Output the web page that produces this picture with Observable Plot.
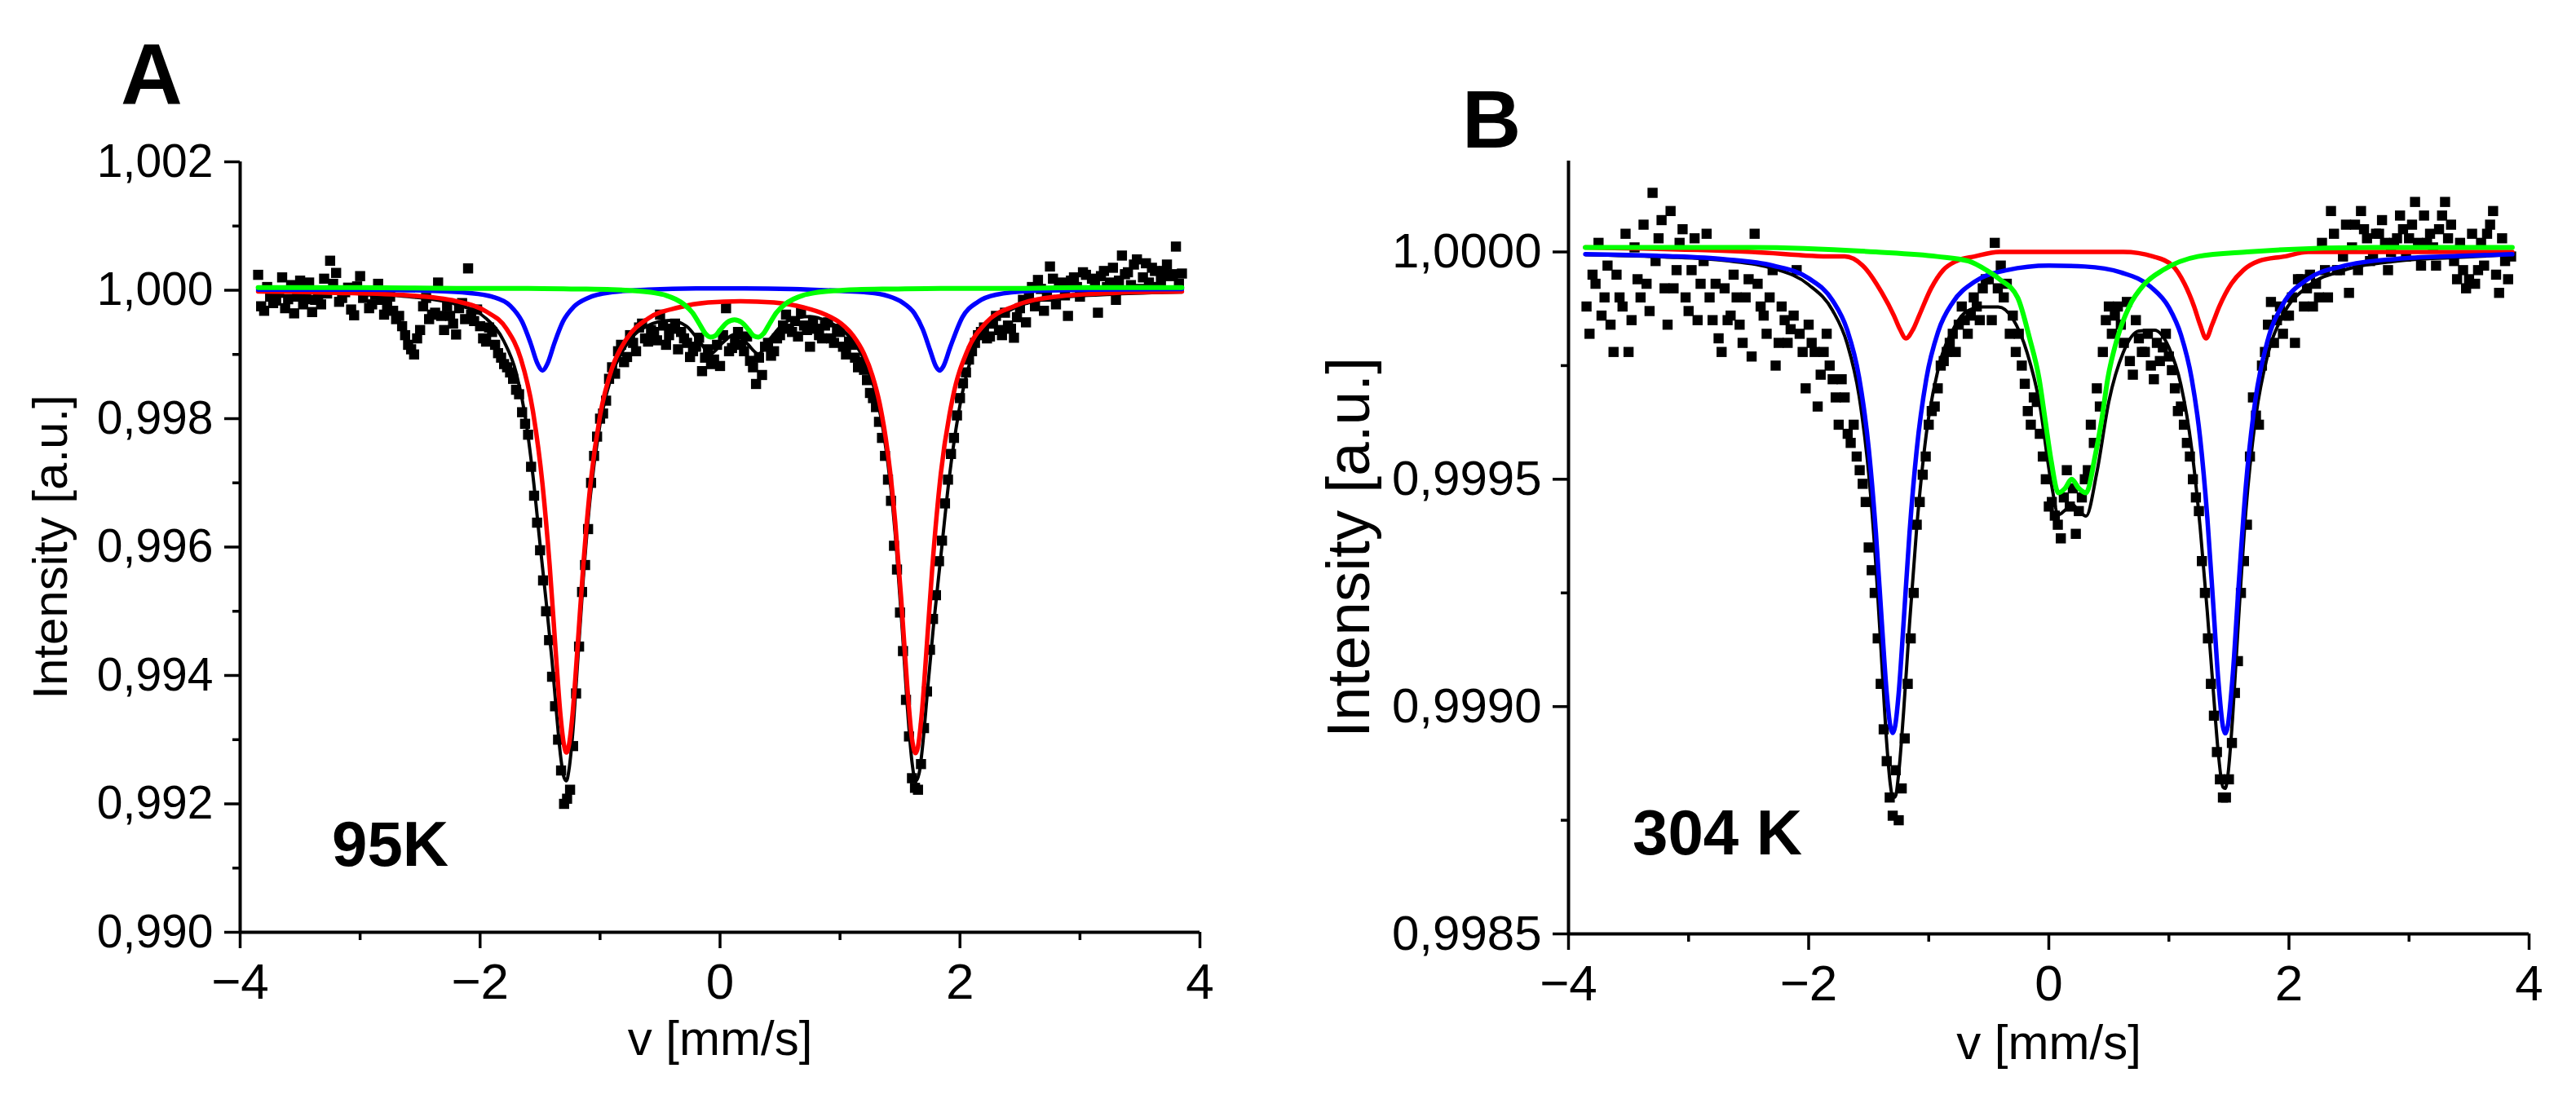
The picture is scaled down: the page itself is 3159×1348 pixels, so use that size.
<!DOCTYPE html>
<html><head><meta charset="utf-8">
<script src="https://cdn.jsdelivr.net/npm/d3@7"></script>
<script src="https://cdn.jsdelivr.net/npm/@observablehq/plot@0.6"></script>
<style>
html,body{margin:0;padding:0;background:#fff;}
#wrap{position:relative;width:3159px;height:1348px;overflow:hidden;font-family:"Liberation Sans",Arial,sans-serif;background:#fff;}
.panel{position:absolute;top:0;}
.lbl{position:absolute;font-weight:bold;color:#000;line-height:1;white-space:nowrap;font-family:"Liberation Sans",Arial,sans-serif;}
</style></head><body><div id="wrap"></div>
<script>
// ---------- shared ----------
const xDomain = [-4, 4];
const xMajor = [-4, -2, 0, 2, 4];
const xMinor = [-3, -1, 1, 3];
const xTitle = "v [mm/s]";
const yTitle = "Intensity [a.u.]";
const panelLetters = ["A", "B"];
const tempLabels = ["95K", "304 K"];

// measured velocity channels (mm/s), two interleaved sets
const velocity = [
-3.85,-3.80,-3.75,-3.70,-3.65,-3.60,-3.55,-3.50,-3.45,-3.40,
-3.35,-3.30,-3.25,-3.20,-3.15,-3.10,-3.05,-3.00,-2.95,-2.90,
-2.85,-2.80,-2.75,-2.70,-2.65,-2.60,-2.55,-2.50,-2.45,-2.40,
-2.35,-2.30,-2.25,-2.20,-2.15,-2.10,-2.05,-2.00,-1.95,-1.90,
-1.85,-1.80,-1.75,-1.70,-1.65,-1.60,-1.55,-1.50,-1.45,-1.40,
-1.35,-1.30,-1.25,-1.20,-1.15,-1.10,-1.05,-1.00,-0.95,-0.90,
-0.85,-0.80,-0.75,-0.70,-0.65,-0.60,-0.55,-0.50,-0.45,-0.40,
-0.35,-0.30,-0.25,-0.20,-0.15,-0.10,-0.05,0.00,0.05,0.10,
0.15,0.20,0.25,0.30,0.35,0.40,0.45,0.50,0.55,0.60,
0.65,0.70,0.75,0.80,0.85,0.90,0.95,1.00,1.05,1.10,
1.15,1.20,1.25,1.30,1.35,1.40,1.45,1.50,1.55,1.60,
1.65,1.70,1.75,1.80,1.85,1.90,1.95,2.00,2.05,2.10,
2.15,2.20,2.25,2.30,2.35,2.40,2.45,2.50,2.55,2.60,
2.65,2.70,2.75,2.80,2.85,2.90,2.95,3.00,3.05,3.10,
3.15,3.20,3.25,3.30,3.35,3.40,3.45,3.50,3.55,3.60,
3.65,3.70,3.75,3.80,3.85];
const velocityOdd = [
-3.825,-3.775,-3.725,-3.675,-3.625,-3.575,-3.525,-3.475,-3.425,-3.375,
-3.325,-3.275,-3.225,-3.175,-3.125,-3.075,-3.025,-2.975,-2.925,-2.875,
-2.825,-2.775,-2.725,-2.675,-2.625,-2.575,-2.525,-2.475,-2.425,-2.375,
-2.325,-2.275,-2.225,-2.175,-2.125,-2.075,-2.025,-1.975,-1.925,-1.875,
-1.825,-1.775,-1.725,-1.675,-1.625,-1.575,-1.525,-1.475,-1.425,-1.375,
-1.325,-1.275,-1.225,-1.175,-1.125,-1.075,-1.025,-0.975,-0.925,-0.875,
-0.825,-0.775,-0.725,-0.675,-0.625,-0.575,-0.525,-0.475,-0.425,-0.375,
-0.325,-0.275,-0.225,-0.175,-0.125,-0.075,-0.025,0.025,0.075,0.125,
0.175,0.225,0.275,0.325,0.375,0.425,0.475,0.525,0.575,0.625,
0.675,0.725,0.775,0.825,0.875,0.925,0.975,1.025,1.075,1.125,
1.175,1.225,1.275,1.325,1.375,1.425,1.475,1.525,1.575,1.625,
1.675,1.725,1.775,1.825,1.875,1.925,1.975,2.025,2.075,2.125,
2.175,2.225,2.275,2.325,2.375,2.425,2.475,2.525,2.575,2.625,
2.675,2.725,2.775,2.825,2.875,2.925,2.975,3.025,3.075,3.125,
3.175,3.225,3.275,3.325,3.375,3.425,3.475,3.525,3.575,3.625,
3.675,3.725,3.775,3.825];

// ---------- Panel A (95 K) ----------
const yDomainA = [0.990, 1.002];
const yMajorA = [0.990, 0.992, 0.994, 0.996, 0.998, 1.000, 1.002];
const yMinorA = [0.991, 0.993, 0.995, 0.997, 0.999, 1.001];

const measuredA = [
1.00024,0.99968,0.99990,0.99984,1.00020,0.99986,0.99964,1.00015,0.99986,0.99966,
0.99992,1.00018,1.00046,1.00027,0.99988,1.00004,0.99961,1.00022,0.99998,0.99978,
1.00010,0.99962,0.99990,0.99955,0.99944,0.99915,0.99900,0.99938,0.99988,0.99962,
1.00012,0.99938,0.99960,0.99931,0.99980,1.00034,0.99952,0.99944,0.99920,0.99935,
0.99902,0.99885,0.99872,0.99845,0.99810,0.99775,0.99680,0.99595,0.99500,0.99398,
0.99300,0.99200,0.99222,0.99372,0.99530,0.99628,0.99742,0.99800,0.99828,0.99880,
0.99905,0.99888,0.99930,0.99905,0.99948,0.99920,0.99935,0.99962,0.99915,0.99940,
0.99908,0.99925,0.99896,0.99912,0.99874,0.99908,0.99892,0.99882,0.99972,0.99910,
0.99935,0.99905,0.99890,0.99854,0.99868,0.99918,0.99905,0.99930,0.99962,0.99935,
0.99928,0.99945,0.99912,0.99940,0.99925,0.99950,0.99918,0.99935,0.99900,0.99915,
0.99880,0.99876,0.99840,0.99818,0.99770,0.99705,0.99602,0.99498,0.99362,0.99240,
0.99222,0.99318,0.99440,0.99525,0.99610,0.99705,0.99770,0.99832,0.99872,0.99905,
0.99930,0.99942,0.99928,0.99960,0.99930,0.99945,0.99926,0.99972,0.99950,1.00005,
1.00016,0.99968,1.00037,0.99978,1.00012,0.99960,1.00020,0.99990,1.00024,1.00018,
0.99965,1.00030,1.00012,0.99985,1.00054,1.00028,1.00040,1.00002,1.00042,1.00035,
1.00005,1.00030,1.00022,1.00068,1.00026];
const measuredA2 = [
0.99975,1.00005,0.99980,0.99996,0.99972,1.00008,0.99990,0.99978,1.00012,0.99985,
0.99978,0.99995,1.00010,0.99982,0.99997,0.99970,1.00006,0.99988,0.99972,0.99993,
0.99985,0.99975,0.99968,0.99960,0.99930,0.99908,0.99925,0.99975,0.99955,0.99965,
0.99960,0.99975,0.99948,0.99972,0.99955,0.99962,0.99970,0.99925,0.99942,0.99915,
0.99895,0.99880,0.99862,0.99838,0.99792,0.99725,0.99638,0.99548,0.99455,0.99352,
0.99252,0.99208,0.99290,0.99445,0.99572,0.99700,0.99772,0.99808,0.99862,0.99870,
0.99915,0.99896,0.99918,0.99942,0.99925,0.99938,0.99922,0.99945,0.99930,0.99948,
0.99935,0.99918,0.99905,0.99926,0.99895,0.99885,0.99915,0.99930,0.99905,0.99922,
0.99915,0.99928,0.99880,0.99895,0.99912,0.99898,0.99925,0.99945,0.99940,0.99952,
0.99965,0.99938,0.99950,0.99930,0.99945,0.99925,0.99940,0.99912,0.99920,0.99895,
0.99888,0.99860,0.99832,0.99795,0.99742,0.99672,0.99565,0.99438,0.99305,0.99225,
0.99262,0.99375,0.99488,0.99578,0.99668,0.99745,0.99805,0.99855,0.99892,0.99918,
0.99935,0.99925,0.99948,0.99938,0.99965,0.99940,0.99958,0.99985,0.99992,0.99975,
1.00002,0.99990,1.00018,1.00008,0.99992,1.00015,1.00005,1.00028,0.99998,1.00010,
1.00022,1.00005,1.00035,1.00015,1.00025,1.00008,1.00048,1.00020,1.00012,1.00030,
1.00015,1.00040,1.00025,1.00010];

const totalAx = [-3.85,-3.2,-2.6,-2.2,-1.95,-1.8,-1.7,-1.62,-1.56,-1.50,-1.45,-1.40,-1.36,-1.33,-1.30,-1.28,-1.26,-1.23,-1.19,-1.14,-1.08,-1.00,-0.90,-0.78,-0.60,-0.42,-0.28,-0.17,-0.08,0.02,0.12,0.22,0.32,0.42,0.56,0.75,0.90,1.02,1.12,1.21,1.29,1.36,1.42,1.47,1.52,1.56,1.60,1.63,1.66,1.69,1.73,1.78,1.84,1.91,2.0,2.1,2.25,2.45,2.8,3.3,3.85];
const totalAy = [0.99998,0.99996,0.99990,0.99978,0.99956,0.99920,0.99872,0.99799,0.99712,0.99604,0.99516,0.99422,0.99335,0.99276,0.99241,0.99236,0.99252,0.99305,0.99412,0.99550,0.99681,0.99792,0.99869,0.99915,0.99945,0.99953,0.99944,0.99920,0.99901,0.99918,0.99931,0.99918,0.99901,0.99925,0.99952,0.99959,0.99951,0.99938,0.99918,0.99888,0.99844,0.99782,0.99698,0.99598,0.99468,0.99354,0.99265,0.99235,0.99248,0.99293,0.99378,0.99479,0.99585,0.99707,0.99821,0.99898,0.99946,0.99972,0.99988,0.99994,0.99997];

const redAx = [-3.85,-3.2,-2.6,-2.2,-1.95,-1.78,-1.66,-1.56,-1.48,-1.42,-1.37,-1.33,-1.30,-1.28,-1.26,-1.23,-1.19,-1.14,-1.08,-1.00,-0.90,-0.78,-0.60,-0.35,-0.10,0.17,0.45,0.70,0.88,1.01,1.11,1.20,1.27,1.33,1.38,1.42,1.46,1.51,1.56,1.60,1.63,1.65,1.68,1.72,1.77,1.84,1.94,2.06,2.22,2.45,2.80,3.30,3.85];
const redAy = [0.99998,0.99996,0.99992,0.99983,0.99967,0.99940,0.99893,0.99812,0.99698,0.99571,0.99438,0.99338,0.99291,0.99280,0.99291,0.99338,0.99438,0.99571,0.99698,0.99805,0.99879,0.99924,0.99956,0.99973,0.99981,0.99983,0.99981,0.99973,0.99962,0.99948,0.99929,0.99901,0.99867,0.99824,0.99771,0.99714,0.99639,0.99519,0.99384,0.99301,0.99279,0.99289,0.99337,0.99437,0.99570,0.99714,0.99833,0.99905,0.99950,0.99975,0.99990,0.99996,0.99998];

const blueAx = [-3.85,-3.0,-2.4,-2.1,-1.9,-1.75,-1.65,-1.58,-1.52,-1.48,-1.44,-1.38,-1.31,-1.22,-1.1,-0.9,-0.6,-0.2,0.2,0.6,1.0,1.2,1.4,1.52,1.62,1.69,1.75,1.80,1.83,1.86,1.92,2.02,2.15,2.3,2.6,3.1,3.85];
const blueAy = [1.00001,1.00001,0.99999,0.99996,0.99990,0.99976,0.99951,0.99918,0.99885,0.99875,0.99885,0.99918,0.99951,0.99974,0.99988,0.99997,1.00001,1.00003,1.00003,1.00002,0.99999,0.99997,0.99991,0.99981,0.99964,0.99939,0.99907,0.99881,0.99875,0.99881,0.99912,0.99958,0.99982,0.99993,0.99999,1.00001,1.00002];

const greenAx = [-3.85,-3.0,-2.2,-1.6,-1.2,-0.9,-0.7,-0.55,-0.45,-0.37,-0.30,-0.23,-0.17,-0.12,-0.08,-0.04,0.00,0.06,0.12,0.18,0.24,0.28,0.32,0.36,0.41,0.47,0.54,0.61,0.69,0.79,0.94,1.14,1.44,1.84,2.44,3.0,3.85];
const greenAy = [1.00004,1.00004,1.00003,1.00003,1.00002,1.00001,0.99999,0.99996,0.99992,0.99986,0.99978,0.99965,0.99947,0.99932,0.99927,0.99929,0.99938,0.99950,0.99954,0.99950,0.99938,0.99929,0.99927,0.99932,0.99947,0.99965,0.99978,0.99986,0.99992,0.99996,0.99999,1.00001,1.00002,1.00003,1.00003,1.00004,1.00004];

// ---------- Panel B (304 K) ----------
const yDomainB = [0.9985, 1.0002];
const yMajorB = [0.9985, 0.9990, 0.9995, 1.0000];
const yMinorB = [0.99875, 0.99925, 0.99975];

const measuredB = [
0.99988,0.99995,1.00002,0.99990,0.99984,0.99995,0.99988,0.99978,1.00001,0.99990,
0.99993,1.00013,1.00003,0.99992,1.00009,0.99996,1.00005,0.99987,1.00003,0.99993,
1.00004,0.99985,0.99981,0.99992,0.99986,0.99990,0.99980,0.99994,1.00004,0.99988,
0.99982,0.99996,0.99980,0.99985,0.99983,0.99996,0.99978,0.99984,0.99978,0.99973,
0.99982,0.99972,0.99962,0.99968,0.99958,0.99955,0.99949,0.99935,0.99925,0.99905,
0.99888,0.99876,0.99875,0.99893,0.99915,0.99940,0.99951,0.99962,0.99966,0.99975,
0.99978,0.99982,0.99984,0.99985,0.99986,0.99988,0.99992,0.99994,1.00002,0.99997,
0.99993,0.99986,0.99982,0.99971,0.99962,0.99967,0.99955,0.99944,0.99942,0.99937,
0.99952,0.99948,0.99943,0.99950,0.99962,0.99970,0.99978,0.99988,0.99986,0.99984,
0.99989,0.99973,0.99981,0.99978,0.99975,0.99980,0.99979,0.99977,0.99970,0.99966,
0.99958,0.99950,0.99943,0.99925,0.99905,0.99890,0.99880,0.99884,0.99903,0.99925,
0.99940,0.99968,0.99962,0.99978,0.99989,0.99985,0.99982,0.99986,0.99980,0.99994,
0.99992,0.99988,0.99990,0.99996,1.00009,0.99996,0.99999,0.99991,1.00006,1.00009,
1.00003,0.99999,1.00004,1.00002,1.00000,1.00003,1.00005,1.00003,1.00011,0.99997,
1.00002,1.00001,1.00005,1.00011,1.00006,0.99994,0.99996,0.99994,0.99993,1.00002,
1.00004,1.00009,0.99991,0.99998,0.99999];
const measuredB2 = [
0.99982,0.99993,0.99986,0.99997,0.99978,0.99990,1.00004,0.99985,0.99994,1.00006,
0.99987,0.99998,1.00007,0.99984,0.99992,1.00002,0.99990,0.99996,0.99985,0.99998,
0.99990,0.99993,0.99978,0.99985,0.99995,0.99984,0.99990,0.99977,0.99993,0.99986,
0.99990,0.99975,0.99988,0.99980,0.99986,0.99982,0.99970,0.99980,0.99966,0.99978,
0.99975,0.99968,0.99972,0.99960,0.99962,0.99952,0.99945,0.99930,0.99915,0.99895,
0.99880,0.99886,0.99882,0.99905,0.99925,0.99945,0.99955,0.99965,0.99970,0.99976,
0.99980,0.99978,0.99988,0.99982,0.99990,0.99985,0.99994,0.99985,0.99992,0.99990,
0.99982,0.99978,0.99975,0.99965,0.99968,0.99960,0.99950,0.99945,0.99940,0.99946,
0.99944,0.99938,0.99946,0.99952,0.99958,0.99966,0.99985,0.99982,0.99988,0.99980,
0.99976,0.99985,0.99978,0.99982,0.99972,0.99976,0.99982,0.99974,0.99965,0.99962,
0.99955,0.99946,0.99932,0.99915,0.99898,0.99884,0.99880,0.99892,0.99910,0.99932,
0.99955,0.99964,0.99975,0.99984,0.99980,0.99988,0.99986,0.99990,0.99994,0.99988,
0.99995,0.99993,1.00002,0.99990,1.00004,0.99996,1.00006,1.00001,0.99996,1.00005,
0.99998,1.00004,1.00007,0.99996,1.00002,1.00008,0.99999,1.00006,1.00002,1.00008,
1.00004,0.99997,1.00008,1.00003,0.99998,1.00002,0.99992,1.00004,0.99996,0.99997,
1.00006,0.99995,1.00003,0.99994];

const totalBx = [-3.86,-3.2,-2.7,-2.3,-2.0,-1.8,-1.68,-1.58,-1.50,-1.44,-1.39,-1.35,-1.32,-1.30,-1.28,-1.25,-1.21,-1.16,-1.10,-1.02,-0.92,-0.80,-0.68,-0.55,-0.42,-0.30,-0.18,-0.08,0.02,0.08,0.135,0.19,0.25,0.31,0.40,0.50,0.62,0.75,0.88,1.00,1.10,1.19,1.26,1.32,1.37,1.41,1.45,1.47,1.49,1.53,1.58,1.64,1.72,1.82,1.95,2.15,2.45,2.9,3.4,3.86];
const totalBy = [0.999994,0.999989,0.999981,0.999964,0.999928,0.999871,0.999799,0.999683,0.999512,0.99931,0.999092,0.99892,0.998829,0.998801,0.998801,0.998854,0.998986,0.999182,0.999394,0.9996,0.999744,0.999828,0.99987,0.999879,0.999879,0.999853,0.999778,0.999671,0.999492,0.999422,0.999432,0.999446,0.99943,0.999419,0.999515,0.999671,0.999779,0.999826,0.999828,0.99979,0.999708,0.999567,0.999395,0.999208,0.999034,0.998902,0.998823,0.99882,0.998846,0.998973,0.999191,0.999426,0.99963,0.99977,0.999861,0.999923,0.999959,0.99998,0.999988,0.999994];

const redBx = [-3.86,-2.47,-1.80,-1.70,-1.55,-1.39,-1.29,-1.24,-1.19,-1.13,-1.08,-0.98,-0.88,-0.77,-0.62,-0.41,0.10,0.62,0.87,1.03,1.13,1.21,1.26,1.31,1.36,1.42,1.52,1.62,1.75,1.96,2.16,3.86];
const redBy = [1.00001,1.00000,0.99999,0.99999,0.99997,0.99991,0.99986,0.99983,0.99981,0.99983,0.99986,0.99992,0.99996,0.99998,0.99999,1.00000,1.00000,1.00000,0.99999,0.99997,0.99993,0.99988,0.99984,0.99981,0.99984,0.99988,0.99993,0.99996,0.99998,0.99999,1.00000,1.00000];

const blueBx = [-3.86,-3.2,-2.7,-2.3,-2.0,-1.8,-1.68,-1.58,-1.50,-1.44,-1.39,-1.35,-1.32,-1.30,-1.28,-1.25,-1.21,-1.16,-1.10,-1.02,-0.92,-0.80,-0.62,-0.35,0.0,0.3,0.6,0.85,1.00,1.10,1.19,1.26,1.32,1.37,1.41,1.45,1.47,1.49,1.53,1.58,1.64,1.72,1.82,1.95,2.15,2.45,2.9,3.4,3.86];
const blueBy = [0.999995,0.999991,0.999984,0.99997,0.999942,0.999893,0.999829,0.999724,0.999568,0.999382,0.999182,0.99903,0.998957,0.998942,0.998957,0.99903,0.999182,0.999382,0.999565,0.999721,0.999826,0.999889,0.999934,0.99996,0.99997,0.999968,0.999955,0.999923,0.999878,0.999818,0.999721,0.999591,0.999416,0.999222,0.999063,0.998956,0.998941,0.998956,0.999063,0.999263,0.999482,0.999674,0.999803,0.999885,0.999939,0.999969,0.999985,0.999991,0.999995];

const greenBx = [-3.86,-2.47,-1.44,-0.93,-0.67,-0.52,-0.41,-0.26,-0.16,-0.08,-0.03,0.02,0.08,0.135,0.19,0.25,0.31,0.385,0.44,0.49,0.57,0.67,0.80,0.95,1.24,1.65,2.68,3.86];
const greenBy = [1.00001,1.00001,1.00000,0.99999,0.99998,0.99996,0.99994,0.99990,0.99981,0.99972,0.99963,0.99954,0.99947,0.99948,0.99950,0.99948,0.99947,0.99955,0.99963,0.99972,0.99981,0.99988,0.99993,0.99996,0.99999,1.00000,1.00001,1.00001];

// ---------- drawing ----------
const fmtX = d => (d < 0 ? "\u2212" : "") + Math.abs(d);
const FONT = "'Liberation Sans', Arial, sans-serif";

function panel(cfg) {
  const fmtY = d => d.toFixed(cfg.digits).replace(".", ",");
  return Plot.plot({
    width: cfg.width, height: 1348,
    marginLeft: cfg.ml, marginRight: cfg.mr, marginTop: cfg.mt, marginBottom: cfg.mb,
    x: {domain: xDomain},
    y: {domain: cfg.yDomain},
    style: {fontFamily: FONT, color: "#000", background: "transparent", overflow: "visible"},
    marks: [
      Plot.dot(velocity, {x: velocity, y: cfg.measured, symbol: "square", r: 7, fill: "#000", stroke: "none"}),
      Plot.dot(velocityOdd, {x: velocityOdd, y: cfg.measured2, symbol: "square", r: 7, fill: "#000", stroke: "none"}),
      Plot.line(cfg.totalX, {x: cfg.totalX, y: cfg.totalY, stroke: "#000", strokeWidth: 4, curve: "monotone-x"}),
      Plot.line(cfg.redX, {x: cfg.redX, y: cfg.redY, stroke: "#ff0000", strokeWidth: 5.5, curve: "monotone-x"}),
      Plot.line(cfg.blueX, {x: cfg.blueX, y: cfg.blueY, stroke: "#0000ff", strokeWidth: 5.5, curve: "monotone-x"}),
      Plot.line(cfg.greenX, {x: cfg.greenX, y: cfg.greenY, stroke: "#00ff00", strokeWidth: 6, curve: "monotone-x"}),
      Plot.ruleX([xDomain[0]], {stroke: "#000", strokeWidth: 4}),
      Plot.ruleY([cfg.yDomain[0]], {stroke: "#000", strokeWidth: 4}),
      Plot.axisX(xMajor, {anchor: "bottom", tickSize: 20, tickPadding: 17, fontSize: 62, strokeWidth: 3.5, tickFormat: fmtX, label: null}),
      Plot.axisX(xMinor, {anchor: "bottom", tickSize: 10, strokeWidth: 3.5, tickFormat: () => "", label: null}),
      Plot.axisY(cfg.yMajor, {anchor: "left", tickSize: 19, tickPadding: 14, fontSize: cfg.yFont, strokeWidth: 3.5, tickFormat: fmtY, label: null}),
      Plot.axisY(cfg.yMinor, {anchor: "left", tickSize: 9, strokeWidth: 3.5, tickFormat: () => "", label: null}),
      Plot.text([yTitle], {text: d => d, frameAnchor: "left", dx: cfg.ylabDx, rotate: -90, fontSize: cfg.ylabFont, lineAnchor: "middle", textAnchor: "middle", fill: "#000"}),
      Plot.text([xTitle], {text: d => d, frameAnchor: "bottom", dy: cfg.xlabDy, fontSize: 60, lineAnchor: "bottom", textAnchor: "middle", fill: "#000"})
    ]
  });
}

const wrap = document.getElementById("wrap");

const svgA = panel({
  width: 1560, ml: 294, mr: 89, mt: 198, mb: 205,
  yDomain: yDomainA, yMajor: yMajorA, yMinor: yMinorA, digits: 3, yFont: 57,
  measured: measuredA, measured2: measuredA2, totalX: totalAx, totalY: totalAy, redX: redAx, redY: redAy,
  blueX: blueAx, blueY: blueAy, greenX: greenAx, greenY: greenAy,
  ylabDx: -232, ylabFont: 60, xlabDy: 150
});
const svgB = panel({
  width: 1580, ml: 344, mr: 58, mt: 197, mb: 203,
  yDomain: yDomainB, yMajor: yMajorB, yMinor: yMinorB, digits: 4, yFont: 60,
  measured: measuredB, measured2: measuredB2, totalX: totalBx, totalY: totalBy, redX: redBx, redY: redBy,
  blueX: blueBx, blueY: blueBy, greenX: greenBx, greenY: greenBy,
  ylabDx: -269, ylabFont: 75, xlabDy: 153
});

const dA = document.createElement("div"); dA.className = "panel"; dA.style.left = "0px"; dA.style.width = "1560px"; dA.appendChild(svgA);
const dB = document.createElement("div"); dB.className = "panel"; dB.style.left = "1579px"; dB.style.width = "1580px"; dB.appendChild(svgB);
wrap.appendChild(dA); wrap.appendChild(dB);

function label(text, left, baseline, size) {
  const el = document.createElement("div");
  el.className = "lbl";
  el.textContent = text;
  el.style.fontSize = size + "px";
  el.style.left = left + "px";
  el.style.top = (baseline - 0.8465 * size) + "px";
  wrap.appendChild(el);
}
label(panelLetters[0], 148, 128, 105);
label(panelLetters[1], 1793, 181, 100);
label(tempLabels[0], 407, 1062, 78);
label(tempLabels[1], 2002, 1048, 78);
</script>
</body></html>
